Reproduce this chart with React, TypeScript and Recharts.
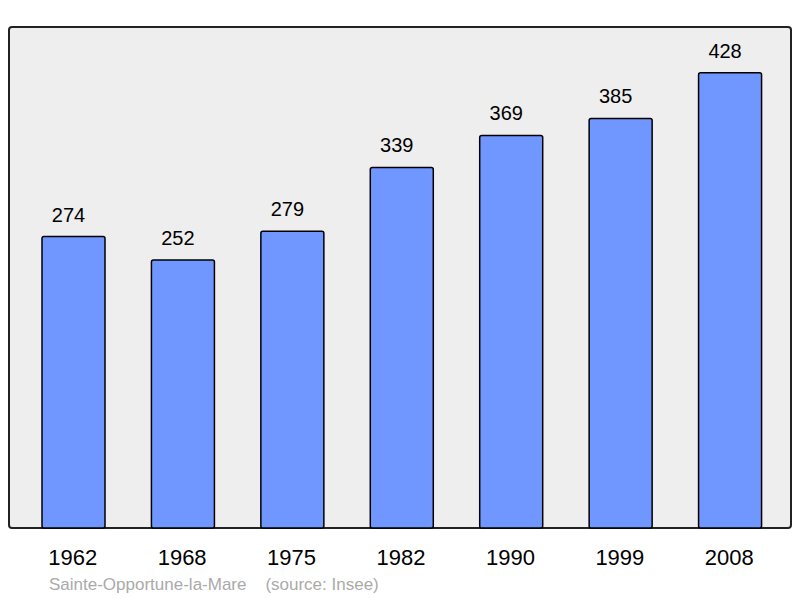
import React from "react";
import { BarChart, Bar, XAxis, YAxis, LabelList } from "recharts";

const years = ["1962", "1968", "1975", "1982", "1990", "1999", "2008"];
const population = [274, 252, 279, 339, 369, 385, 428];
const footer = "Sainte-Opportune-la-Mare\u00a0\u00a0\u00a0\u00a0(source: Insee)";

const data = years.map((y, i) => ({ year: y, pop: population[i] }));

export default function App() {
  return (
    <div style={{ position: "absolute", left: 0, top: 0, width: 800, height: 598, fontFamily: "'Liberation Sans', Arial, sans-serif", background: "#fff" }}>
      <div style={{ position: "absolute", left: 8, top: 26, width: 780, height: 499, border: "2px solid #222", borderRadius: 4, background: "#eeeeee" }} />
      <div style={{ position: "absolute", left: 0, top: 0 }}>
        <BarChart width={800} height={598} data={data} margin={{ top: 27, right: 9, bottom: 30, left: 9 }} barCategoryGap={23}>
          <XAxis dataKey="year" axisLine={false} tickLine={false} height={40} padding={{ left: 10, right: 6 }} tick={{ fontSize: 22, fill: "#000", dx: -1 }} tickMargin={15} interval={0} />
          <YAxis hide domain={[0, 471]} />
          <Bar dataKey="pop" fill="#7097ff" stroke="#000" strokeWidth={1.5} radius={2} isAnimationActive={false}>
            <LabelList dataKey="pop" position="top" offset={15} dx={-5} style={{ fontSize: 20, fill: "#000" }} />
          </Bar>
        </BarChart>
      </div>
      <div style={{ position: "absolute", left: 49, top: 575, fontSize: 17, color: "#aaaaaa", whiteSpace: "pre" }}>{footer}</div>
    </div>
  );
}
